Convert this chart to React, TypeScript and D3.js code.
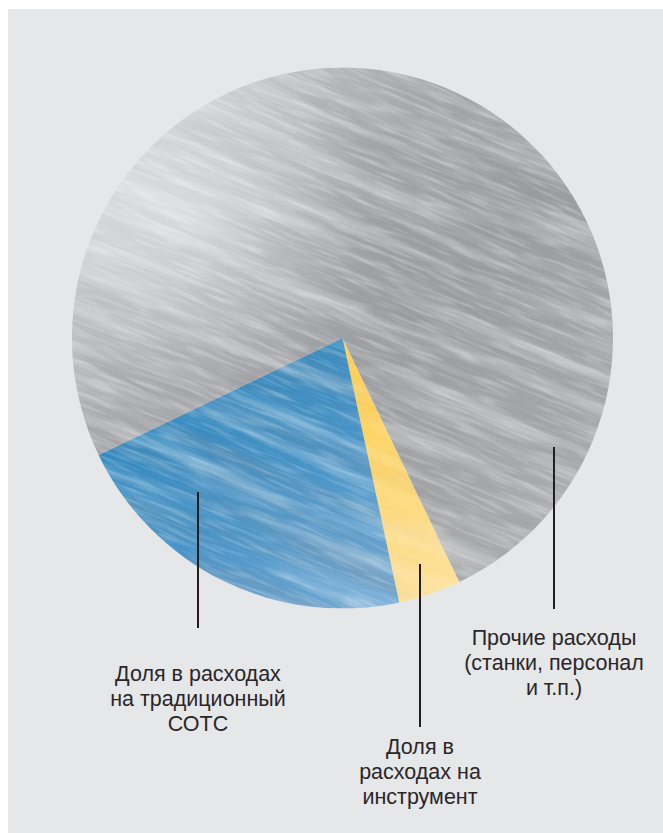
import React from "react";
import * as d3 from "d3";

// ---- data ----
const categories = ["Инструмент", "Традиционный СОТС", "Прочие расходы"];
const shares = [3.75, 21.25, 75];
const labelLines = [
  ["Доля в", "расходах на", "инструмент"],
  ["Доля в расходах", "на традиционный", "СОТС"],
  ["Прочие расходы", "(станки, персонал", "и т.п.)"],
];

// ---- layout ----
const W = 663;
const H = 833;
const CX = 342.5;
const CY = 338;
const R = 270.5;
const START_DEG = 154.4;
const leaders = [
  { x: 420, y1: 564, y2: 727, ty: 754 },
  { x: 198, y1: 492, y2: 628, ty: 681 },
  { x: 554, y1: 447, y2: 609, ty: 645 },
];
const LINE_H = 25;

const gradStops = [
  [
    ["0%", "#fcc631"],
    ["65%", "#fdd25f"],
    ["100%", "#fee3a0"],
  ],
  [
    ["0%", "#1c7db5"],
    ["55%", "#4893c6"],
    ["100%", "#80b2da"],
  ],
  [
    ["0%", "#cbcccf"],
    ["30%", "#a8a9ac"],
    ["60%", "#9b9c9f"],
    ["100%", "#aaabad"],
  ],
];
const gradCoords = [
  { x1: 0.5, y1: 0, x2: 0.6, y2: 1 },
  { x1: 0.3, y1: 0.2, x2: 0.8, y2: 1 },
  { x1: 0.15, y1: 0.15, x2: 0.85, y2: 0.8 },
];
const streakOpacity = [0.2, 0.4, 0.45];
const darkOpacity = [0.08, 0.3, 0.35];
const grainOpacity = [0.15, 0.3, 0.35];

export default function App() {
  const pie = d3
    .pie<number>()
    .sort(null)
    .value((d) => d)
    .startAngle((START_DEG * Math.PI) / 180)
    .endAngle((START_DEG * Math.PI) / 180 + Math.PI * 2);
  const arcs = pie(shares);
  const arcGen = d3.arc<d3.PieArcDatum<number>>().innerRadius(0).outerRadius(R);

  return (
    <svg
      width={W}
      height={H}
      style={{ position: "fixed", left: 0, top: 0, display: "block" }}
      xmlns="http://www.w3.org/2000/svg"
    >
      <defs>
        <filter id="streakLight" x="-50%" y="-50%" width="200%" height="200%">
          <feTurbulence type="fractalNoise" baseFrequency="0.005 0.07" numOctaves="4" seed="7" />
          <feColorMatrix
            type="matrix"
            values="0 0 0 0 1  0 0 0 0 1  0 0 0 0 1  1.9 0 0 0 -0.8"
          />
          <feGaussianBlur stdDeviation="0.6" />
        </filter>
        <filter id="streakDark" x="-50%" y="-50%" width="200%" height="200%">
          <feTurbulence type="fractalNoise" baseFrequency="0.004 0.05" numOctaves="3" seed="19" />
          <feColorMatrix
            type="matrix"
            values="0 0 0 0 0.3  0 0 0 0 0.3  0 0 0 0 0.32  0 2.0 0 0 -0.85"
          />
        </filter>
        <filter id="grain" x="-50%" y="-50%" width="200%" height="200%">
          <feTurbulence type="fractalNoise" baseFrequency="0.025 0.3" numOctaves="2" seed="3" />
          <feColorMatrix
            type="matrix"
            values="0 0 0 0 1  0 0 0 0 1  0 0 0 0 1  2.2 0 0 0 -1.0"
          />
        </filter>
        <radialGradient id="glare" cx="0.22" cy="0.28" r="0.33">
          <stop offset="0%" stopColor="#ffffff" stopOpacity={0.45} />
          <stop offset="100%" stopColor="#ffffff" stopOpacity={0} />
        </radialGradient>
        {arcs.map((a, i) => (
          <clipPath id={`clip${i}`} key={`c${i}`}>
            <path d={arcGen(a) || ""} transform={`translate(${CX},${CY})`} />
          </clipPath>
        ))}
        {gradStops.map((stops, i) => (
          <linearGradient
            id={`grad${i}`}
            key={`g${i}`}
            x1={gradCoords[i].x1}
            y1={gradCoords[i].y1}
            x2={gradCoords[i].x2}
            y2={gradCoords[i].y2}
          >
            {stops.map(([o, c]) => (
              <stop key={o} offset={o} stopColor={c} />
            ))}
          </linearGradient>
        ))}
      </defs>
      <rect x={8} y={9} width={W - 8} height={H - 9} fill="#e6e7e9" />
      {arcs.map((a, i) => (
        <g key={categories[i]} clipPath={`url(#clip${i})`}>
          <rect x={CX - R} y={CY - R} width={2 * R} height={2 * R} fill={`url(#grad${i})`} />
          <g transform={`rotate(22 ${CX} ${CY})`}>
            <rect
              x={CX - R * 1.5}
              y={CY - R * 1.5}
              width={R * 3}
              height={R * 3}
              filter="url(#streakDark)"
              opacity={darkOpacity[i]}
            />
            <rect
              x={CX - R * 1.5}
              y={CY - R * 1.5}
              width={R * 3}
              height={R * 3}
              filter="url(#streakLight)"
              opacity={streakOpacity[i]}
            />
            <rect
              x={CX - R * 1.5}
              y={CY - R * 1.5}
              width={R * 3}
              height={R * 3}
              filter="url(#grain)"
              opacity={grainOpacity[i]}
            />
          </g>
          {i === 2 && (
            <rect x={CX - R} y={CY - R} width={2 * R} height={2 * R} fill="url(#glare)" />
          )}
        </g>
      ))}
      {leaders.map((l, i) => (
        <g key={`l${i}`}>
          <line x1={l.x} x2={l.x} y1={l.y1} y2={l.y2} stroke="#231f20" strokeWidth={2} />
          <text
            x={l.x}
            y={l.ty}
            textAnchor="middle"
            fontFamily="'Liberation Sans', Arial, Helvetica, sans-serif"
            fontSize={21.5}
            fill="#2a2627"
          >
            {labelLines[i].map((t, j) => (
              <tspan key={j} x={l.x} y={l.ty + j * LINE_H}>
                {t}
              </tspan>
            ))}
          </text>
        </g>
      ))}
    </svg>
  );
}
